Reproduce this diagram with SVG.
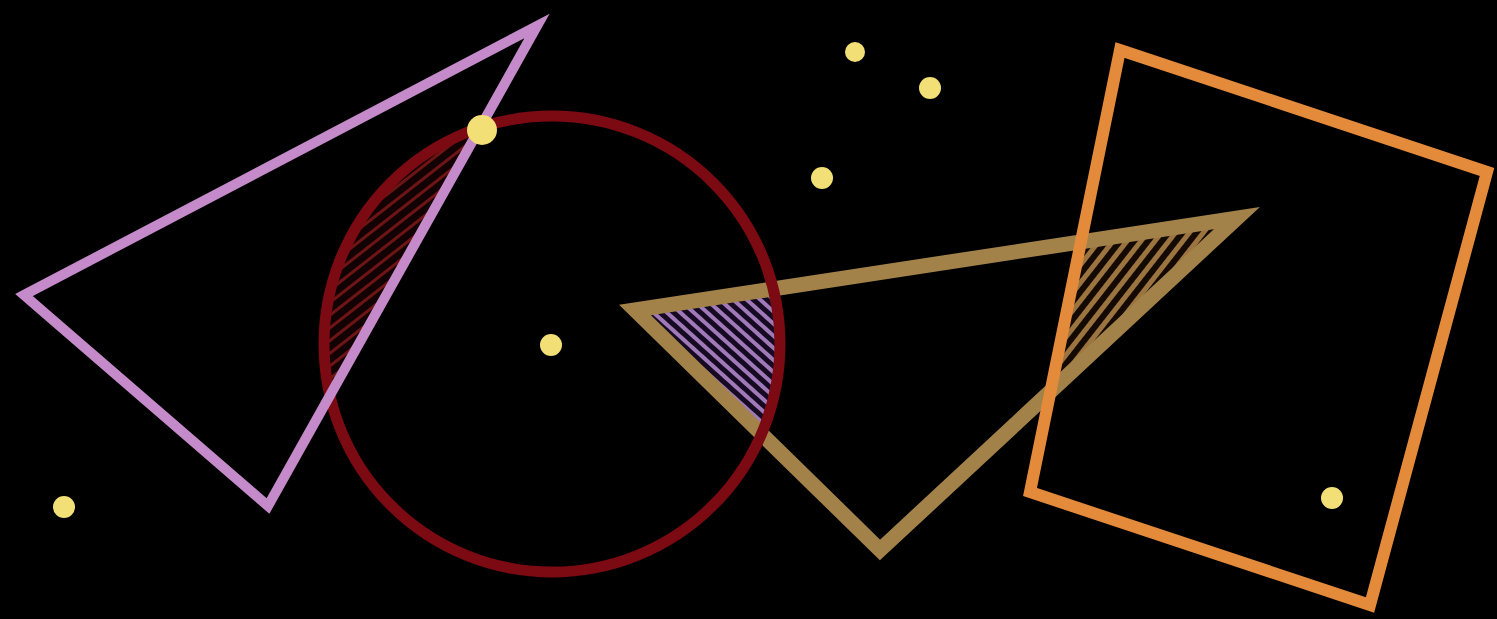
<svg xmlns="http://www.w3.org/2000/svg" width="1497" height="619" viewBox="0 0 1497 619">
<style>
.shape{fill:none;stroke-linejoin:miter}
.dot{fill:#f2df76}
</style>
<defs>
<pattern id="hatchRed" width="10" height="10" patternUnits="userSpaceOnUse" patternTransform="rotate(-38)">
<rect width="10" height="10" fill="#120204"/>
<rect width="10" height="3" fill="#6e1414"/>
</pattern>
<pattern id="hatchViolet" width="9" height="9" patternUnits="userSpaceOnUse" patternTransform="rotate(42)">
<rect width="9" height="9" fill="#160a22"/>
<rect width="9" height="4" fill="#a07ab8"/>
</pattern>
<pattern id="hatchTan" width="11" height="11" patternUnits="userSpaceOnUse" patternTransform="rotate(-52)">
<rect width="11" height="11" fill="#140a02"/>
<rect width="11" height="5" fill="#9c7440"/>
</pattern>
<clipPath id="clipCircle"><circle cx="552" cy="344" r="228"/></clipPath>
<clipPath id="clipPurple"><polygon points="24,295 537,26 268,506"/></clipPath>
<clipPath id="clipTan"><polygon points="635,310 1237,218 880,550"/></clipPath>
<clipPath id="clipRect"><polygon points="1120,50 1487,172 1370,605 1030,492"/></clipPath>
</defs>
<rect width="1497" height="619" fill="#000"/>
<g id="hatches">
<g clip-path="url(#clipCircle)"><g clip-path="url(#clipPurple)"><rect x="300" y="100" width="250" height="320" fill="url(#hatchRed)"/></g></g>
<g clip-path="url(#clipCircle)"><g clip-path="url(#clipTan)"><rect x="620" y="280" width="180" height="160" fill="url(#hatchViolet)"/></g></g>
<g clip-path="url(#clipRect)"><g clip-path="url(#clipTan)"><rect x="1020" y="200" width="240" height="220" fill="url(#hatchTan)"/></g></g>
</g>
<g id="tan-triangle"><polygon class="shape" points="635,310 1237,218 880,550" stroke="#a3824a" stroke-width="15"/></g>
<g id="red-circle"><circle class="shape" cx="552" cy="344" r="228" stroke="#7c0a12" stroke-width="11"/></g>
<g id="purple-triangle"><polygon class="shape" points="24,295 537,26 268,506" stroke="#c58ac9" stroke-width="10"/></g>
<g id="orange-rect"><polygon class="shape" points="1120,50 1487,172 1370,605 1030,492" stroke="#e38a3b" stroke-width="12"/></g>
<g id="dots">
<circle class="dot" cx="855" cy="52" r="10"/>
<circle class="dot" cx="930" cy="88" r="11"/>
<circle class="dot" cx="822" cy="178" r="11"/>
<circle class="dot" cx="482" cy="130" r="15"/>
<circle class="dot" cx="551" cy="345" r="11"/>
<circle class="dot" cx="64" cy="507" r="11"/>
<circle class="dot" cx="1332" cy="498" r="11"/>
</g>
</svg>
